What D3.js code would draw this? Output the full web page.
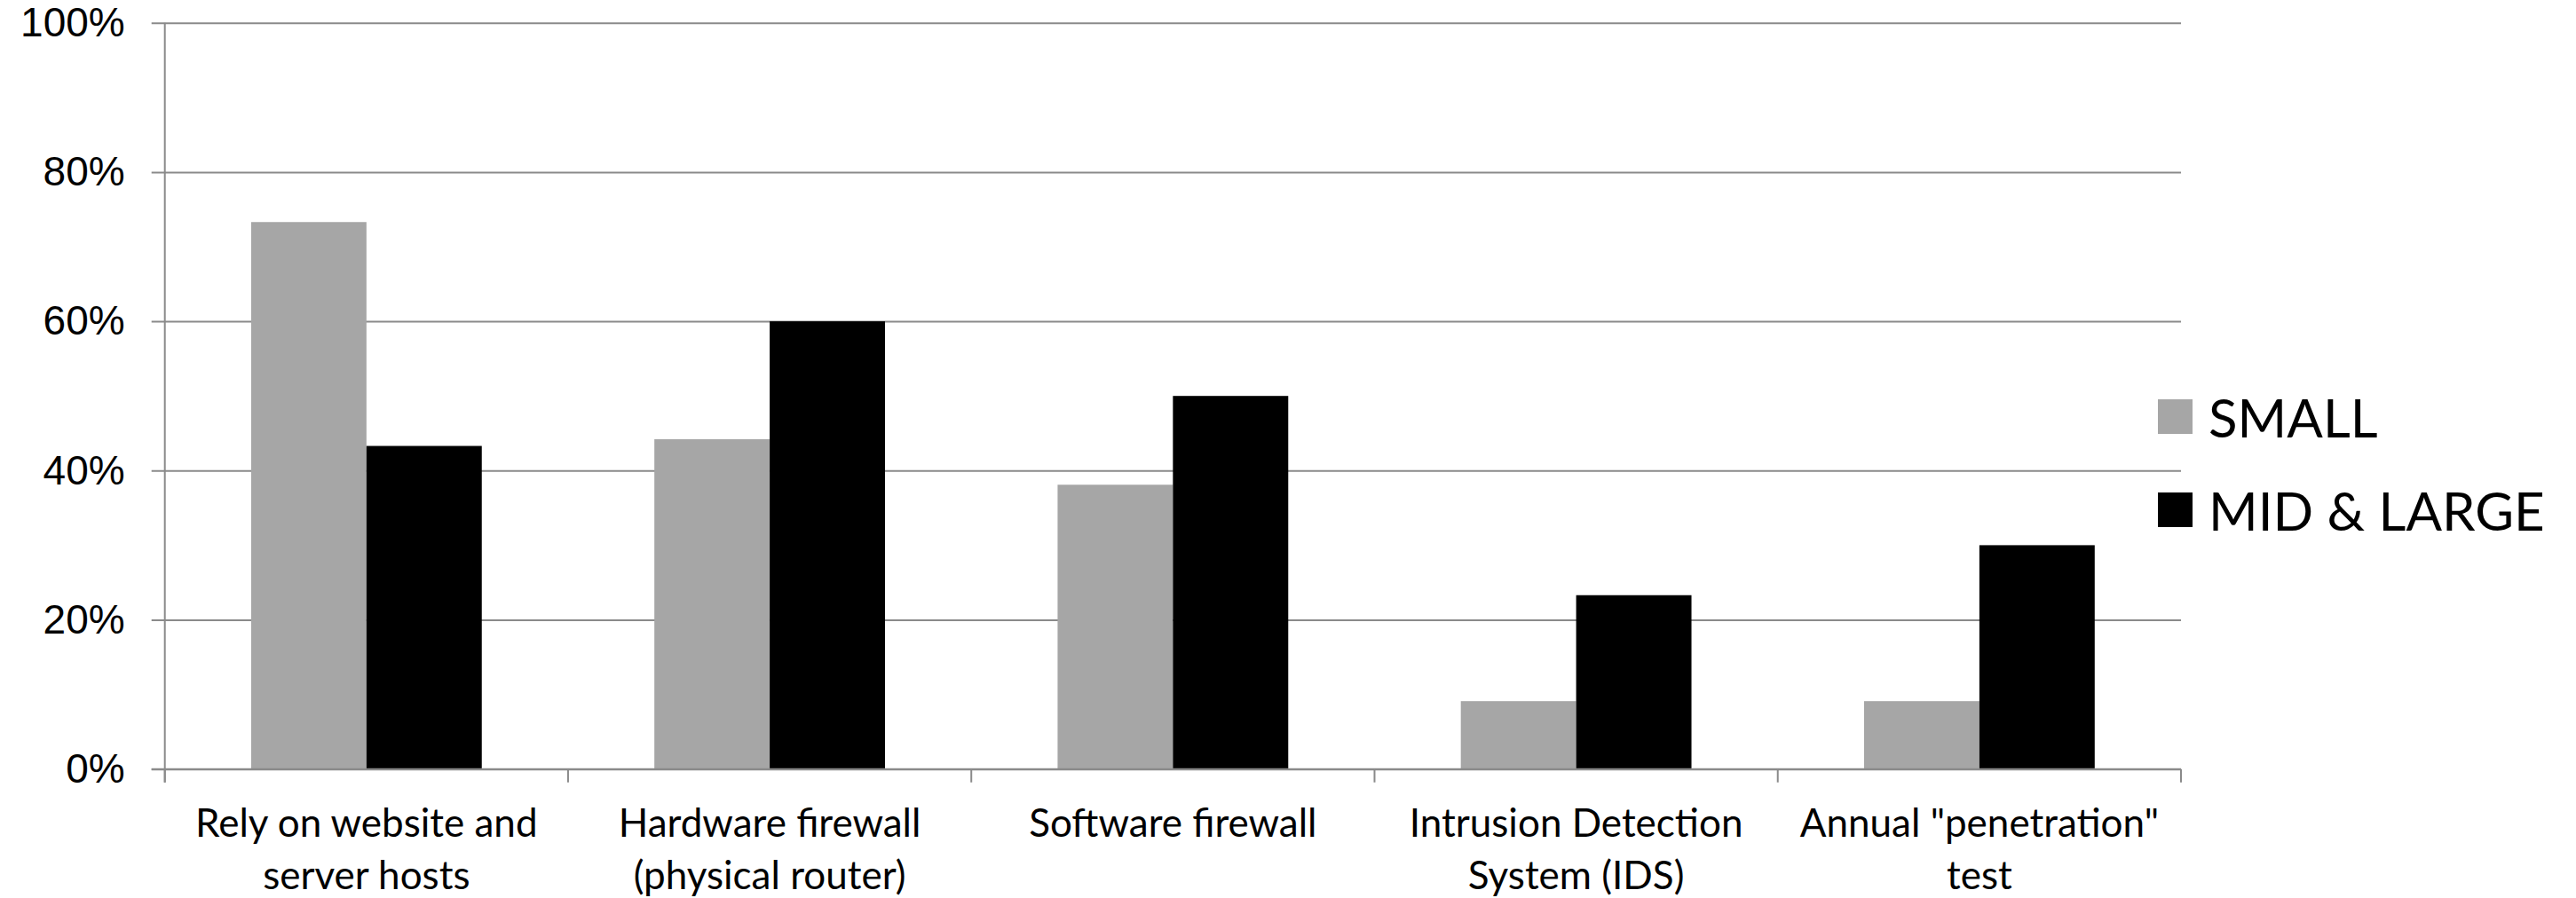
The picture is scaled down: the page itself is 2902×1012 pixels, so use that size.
<!DOCTYPE html>
<html>
<head>
<meta charset="utf-8">
<script src="https://cdn.jsdelivr.net/npm/d3@7"></script>
<style>
  body { margin: 0; background: #fff; }
  svg { display: block; }
</style>
</head>
<body>
<div id="chart"></div>
<script>
const categories = [
  ['Rely on website and', 'server hosts'],
  ['Hardware firewall', '(physical router)'],
  ['Software firewall'],
  ['Intrusion Detection', 'System (IDS)'],
  ['Annual "penetration"', 'test']
]
const seriesNames = ['SMALL', 'MID & LARGE']
const small = [73.3, 44.2, 38.1, 9.1, 9.1]
const midLarge = [43.3, 60, 50, 23.3, 30]
const yTicks = [0, 20, 40, 60, 80, 100]

const width = 2902
const height = 1012
const margin = { top: 25.7, left: 185.7, right: 445, bottom: 145.3 }
const colors = { 'SMALL': '#a6a6a6', 'MID & LARGE': '#000000' }
const gridColor = '#8a8a8a'

const svg = d3.select('#chart')
  .append('svg')
  .attr('width', width)
  .attr('height', height)

const keys = categories.map(lines => lines.join(' '))
const data = keys.map((key, i) => ({ key, lines: categories[i], values: [small[i], midLarge[i]] }))

const x = d3.scaleBand()
  .domain(keys)
  .range([margin.left, width - margin.right])
  .paddingInner(0)

const barWidth = x.bandwidth() * 0.286
const x1 = d3.scaleBand()
  .domain(seriesNames)
  .range([x.bandwidth() / 2 - barWidth, x.bandwidth() / 2 + barWidth])

const y = d3.scaleLinear()
  .domain([0, 100])
  .range([height - margin.bottom, margin.top])

// Y axis with gridlines
const tickLeft = margin.left - 15
svg.append('g')
  .attr('class', 'y')
  .attr('transform', `translate(${tickLeft},0)`)
  .call(d3.axisLeft(y)
    .tickValues(yTicks)
    .tickFormat(d => d + '%')
    .tickSize(-(width - margin.right - tickLeft))
    .tickPadding(30))
  .call(g => g.select('.domain').remove())
  .call(g => g.selectAll('.tick line')
    .attr('stroke', gridColor)
    .attr('stroke-width', 2))
  .call(g => g.selectAll('.tick text')
    .attr('font-family', '"Liberation Sans", Arial, sans-serif')
    .attr('font-size', 46)
    .attr('fill', '#000'))

// Bars
const group = svg.append('g')
  .attr('class', 'bars')
  .selectAll('g')
  .data(data)
  .join('g')
  .attr('transform', d => `translate(${x(d.key)},0)`)

group.selectAll('rect')
  .data(d => seriesNames.map((name, i) => ({ name, value: d.values[i] })))
  .join('rect')
  .attr('x', d => x1(d.name))
  .attr('width', x1.bandwidth())
  .attr('y', d => y(d.value))
  .attr('height', d => y(0) - y(d.value))
  .attr('fill', d => colors[d.name])

// Axis lines
const axisBottomY = y(0)
svg.append('line')
  .attr('x1', margin.left).attr('x2', margin.left)
  .attr('y1', y(100)).attr('y2', axisBottomY + 15)
  .attr('stroke', gridColor).attr('stroke-width', 2)

svg.append('line')
  .attr('x1', tickLeft).attr('x2', width - margin.right)
  .attr('y1', axisBottomY).attr('y2', axisBottomY)
  .attr('stroke', gridColor).attr('stroke-width', 2)

// Category boundary ticks
const bounds = keys.map(k => x(k)).concat([x.range()[1]])
svg.append('g')
  .selectAll('line')
  .data(bounds)
  .join('line')
  .attr('x1', d => d).attr('x2', d => d)
  .attr('y1', axisBottomY).attr('y2', axisBottomY + 15)
  .attr('stroke', gridColor).attr('stroke-width', 2)

// Category labels
svg.append('g')
  .attr('class', 'x-labels')
  .selectAll('text')
  .data(data)
  .join('text')
  .attr('x', d => x(d.key) + x.bandwidth() / 2)
  .attr('y', axisBottomY + 76)
  .attr('text-anchor', 'middle')
  .attr('font-family', 'Lato, "Open Sans", sans-serif')
  .attr('font-size', 44)
  .attr('fill', '#000')
  .selectAll('tspan')
  .data(d => d.lines.map(line => ({ line, cx: x(d.key) + x.bandwidth() / 2 })))
  .join('tspan')
  .attr('x', d => d.cx)
  .attr('dy', (d, i) => i === 0 ? 0 : 59)
  .text(d => d.line)

// Legend
const legend = svg.append('g')
  .attr('class', 'legend')
  .attr('transform', 'translate(2431,450)')
  .selectAll('g')
  .data(seriesNames)
  .join('g')
  .attr('transform', (d, i) => `translate(0,${i * 105})`)

legend.append('rect')
  .attr('width', 39)
  .attr('height', 39)
  .attr('fill', d => colors[d])

legend.append('text')
  .attr('x', 57)
  .attr('y', 43)
  .attr('font-family', 'Lato, "Open Sans", sans-serif')
  .attr('font-size', 60)
  .attr('fill', '#000')
  .text(d => d)
</script>
</body>
</html>
